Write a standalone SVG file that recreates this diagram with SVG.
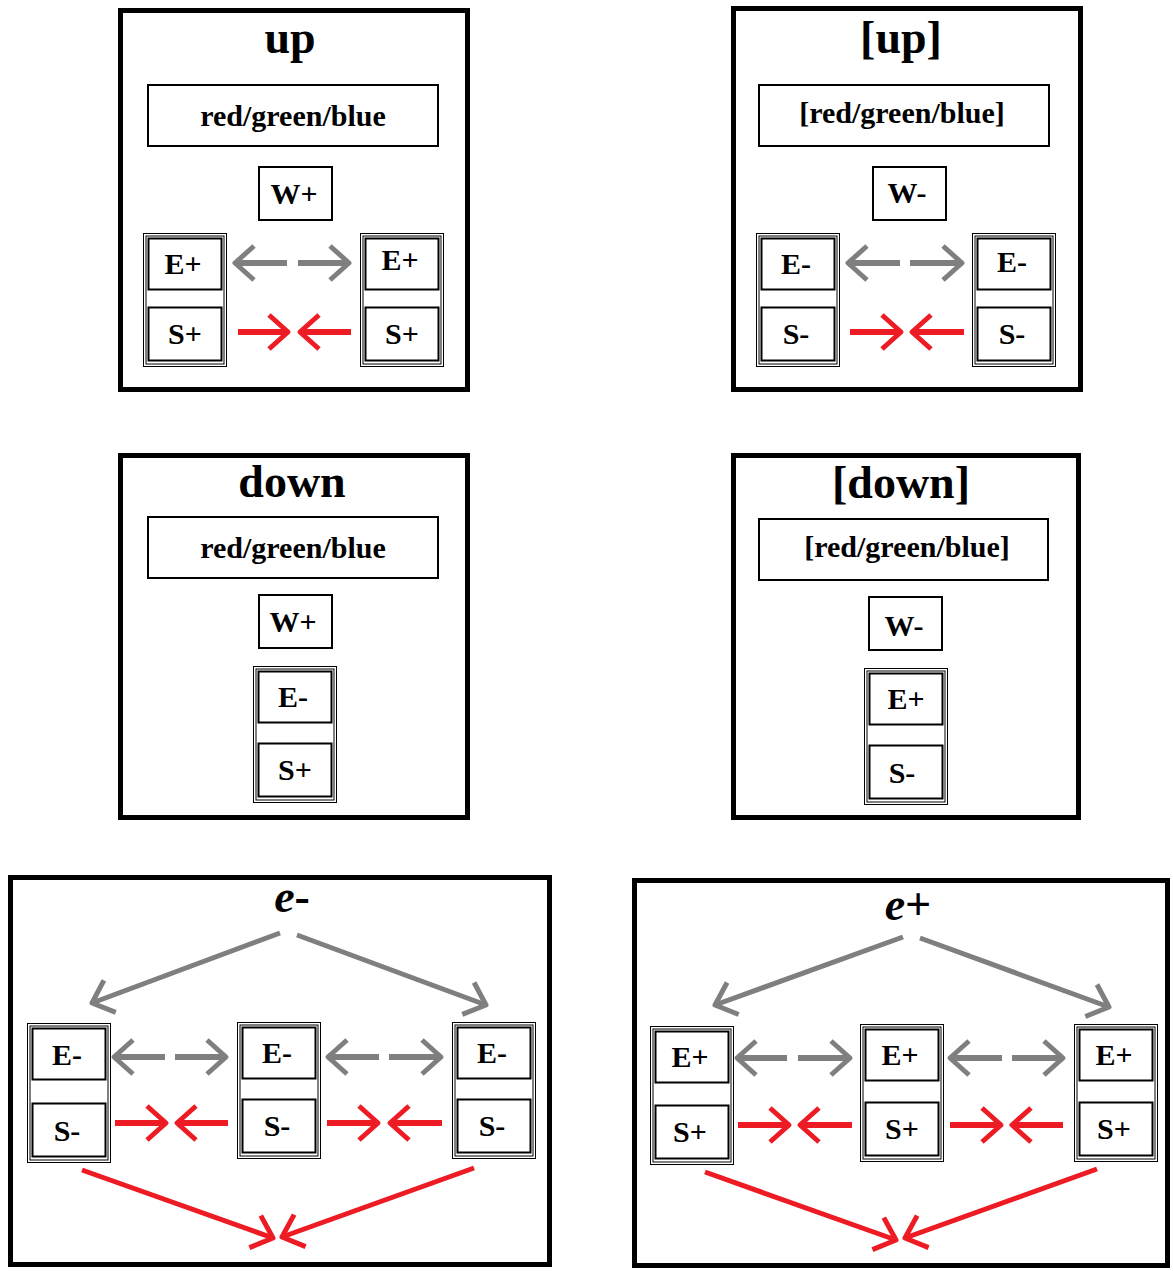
<svg xmlns="http://www.w3.org/2000/svg" width="1173" height="1271" viewBox="0 0 1173 1271">
<style>
.panel{fill:#fff;stroke:#000;stroke-width:5}
.bx{fill:#fff;stroke:#000;stroke-width:2}
.dl{fill:none;stroke:#000;stroke-width:1}
.t{font-family:"Liberation Serif","Times New Roman",serif;font-weight:bold;text-anchor:middle;fill:#000}
.lbl{font-size:30px}
.title{font-size:46px}
.g{stroke:#7f7f7f;fill:none;marker-end:url(#mg)}
.r{stroke:#ed1c24;fill:none;marker-end:url(#mr)}
.h{stroke-width:6}
.d{stroke-width:5}
</style>
<defs>
<marker id="mg" markerUnits="userSpaceOnUse" markerWidth="50" markerHeight="50" viewBox="-25 -25 50 50" refX="0" refY="0" orient="auto" overflow="visible">
<path d="M-19,-17 L0,0 L-19,17" fill="none" stroke="#7f7f7f" stroke-width="5" stroke-linejoin="round"/>
</marker>
<marker id="mr" markerUnits="userSpaceOnUse" markerWidth="50" markerHeight="50" viewBox="-25 -25 50 50" refX="0" refY="0" orient="auto" overflow="visible">
<path d="M-19,-17 L0,0 L-19,17" fill="none" stroke="#ed1c24" stroke-width="5" stroke-linejoin="round"/>
</marker>
</defs>
<rect width="1173" height="1271" fill="#fff"/>

<!-- Panel: up -->
<g id="panel-up">
<rect class="panel" x="120.5" y="10.5" width="347" height="379"/>
<text class="t title" x="290" y="53">up</text>
</g>
<g id="up-rgb"><rect class="bx" x="148" y="85" width="290" height="61"/><text class="t lbl" x="293" y="126">red/green/blue</text></g>
<g id="up-w"><rect class="bx" x="259" y="167" width="73" height="53"/><text class="t lbl" x="294" y="204">W+</text></g>
<g id="up-left" transform="translate(143,233)">
<rect class="dl" x="0.5" y="0.5" width="83" height="133"/><rect class="dl" x="3" y="3" width="78" height="128"/>
<rect class="bx" x="5.5" y="5.5" width="73" height="51"/><text class="t lbl" x="40" y="41">E+</text>
<rect class="bx" x="5.5" y="74.5" width="73" height="53"/><text class="t lbl" x="42" y="111">S+</text>
</g>
<g id="up-right" transform="translate(360,233)">
<rect class="dl" x="0.5" y="0.5" width="83" height="133"/><rect class="dl" x="3" y="3" width="78" height="128"/>
<rect class="bx" x="5.5" y="5.5" width="73" height="51"/><text class="t lbl" x="40" y="37">E+</text>
<rect class="bx" x="5.5" y="74.5" width="73" height="53"/><text class="t lbl" x="42" y="111">S+</text>
</g>

<!-- Panel: [up] -->
<g id="panel-aup">
<rect class="panel" x="733.5" y="8.5" width="347" height="381"/>
<text class="t title" x="901" y="53">[up]</text>
</g>
<g id="aup-rgb"><rect class="bx" x="759" y="85" width="290" height="61"/><text class="t lbl" x="902" y="123">[red/green/blue]</text></g>
<g id="aup-w"><rect class="bx" x="873" y="167" width="73" height="53"/><text class="t lbl" x="907" y="203">W-</text></g>
<g id="aup-left" transform="translate(756,233)">
<rect class="dl" x="0.5" y="0.5" width="83" height="133"/><rect class="dl" x="3" y="3" width="78" height="128"/>
<rect class="bx" x="5.5" y="5.5" width="73" height="51"/><text class="t lbl" x="40" y="41">E-</text>
<rect class="bx" x="5.5" y="74.5" width="73" height="53"/><text class="t lbl" x="40" y="111">S-</text>
</g>
<g id="aup-right" transform="translate(972,233)">
<rect class="dl" x="0.5" y="0.5" width="83" height="133"/><rect class="dl" x="3" y="3" width="78" height="128"/>
<rect class="bx" x="5.5" y="5.5" width="73" height="51"/><text class="t lbl" x="40" y="39">E-</text>
<rect class="bx" x="5.5" y="74.5" width="73" height="53"/><text class="t lbl" x="40" y="111">S-</text>
</g>

<!-- Panel: down -->
<g id="panel-down">
<rect class="panel" x="120.5" y="455.5" width="347" height="362"/>
<text class="t title" x="292" y="497">down</text>
</g>
<g id="down-rgb"><rect class="bx" x="148" y="517" width="290" height="61"/><text class="t lbl" x="293" y="558">red/green/blue</text></g>
<g id="down-w"><rect class="bx" x="259" y="595" width="73" height="53"/><text class="t lbl" x="293" y="632">W+</text></g>
<g id="down-es" transform="translate(253,666)">
<rect class="dl" x="0.5" y="0.5" width="83" height="136"/><rect class="dl" x="3" y="3" width="78" height="131"/>
<rect class="bx" x="5.5" y="5.5" width="73" height="51"/><text class="t lbl" x="40" y="41">E-</text>
<rect class="bx" x="5.5" y="77.5" width="73" height="53"/><text class="t lbl" x="42" y="114">S+</text>
</g>

<!-- Panel: [down] -->
<g id="panel-adown">
<rect class="panel" x="733.5" y="455.5" width="345" height="362"/>
<text class="t title" x="901" y="498">[down]</text>
</g>
<g id="adown-rgb"><rect class="bx" x="759" y="519" width="289" height="61"/><text class="t lbl" x="907" y="557">[red/green/blue]</text></g>
<g id="adown-w"><rect class="bx" x="869" y="597" width="73" height="53"/><text class="t lbl" x="904" y="636">W-</text></g>
<g id="adown-es" transform="translate(864,668)">
<rect class="dl" x="0.5" y="0.5" width="83" height="136"/><rect class="dl" x="3" y="3" width="78" height="131"/>
<rect class="bx" x="5.5" y="5.5" width="73" height="51"/><text class="t lbl" x="42" y="41">E+</text>
<rect class="bx" x="5.5" y="77.5" width="73" height="53"/><text class="t lbl" x="38" y="115">S-</text>
</g>

<!-- Panel: e- -->
<g id="panel-em">
<rect class="panel" x="10.5" y="877.5" width="539" height="387"/>
<text class="t title" x="292" y="912"><tspan font-style="italic">e</tspan>-</text>
</g>
<g id="em-left" transform="translate(27,1023)">
<rect class="dl" x="0.5" y="0.5" width="83" height="139"/><rect class="dl" x="3" y="3" width="78" height="134"/>
<rect class="bx" x="5.5" y="5.5" width="73" height="51"/><text class="t lbl" x="40" y="42">E-</text>
<rect class="bx" x="5.5" y="80.5" width="73" height="53"/><text class="t lbl" x="40" y="118">S-</text>
</g>
<g id="em-mid" transform="translate(237,1022)">
<rect class="dl" x="0.5" y="0.5" width="83" height="136"/><rect class="dl" x="3" y="3" width="78" height="131"/>
<rect class="bx" x="5.5" y="5.5" width="73" height="51"/><text class="t lbl" x="40" y="41">E-</text>
<rect class="bx" x="5.5" y="77.5" width="73" height="53"/><text class="t lbl" x="40" y="114">S-</text>
</g>
<g id="em-right" transform="translate(452,1022)">
<rect class="dl" x="0.5" y="0.5" width="83" height="136"/><rect class="dl" x="3" y="3" width="78" height="131"/>
<rect class="bx" x="5.5" y="5.5" width="73" height="51"/><text class="t lbl" x="40" y="41">E-</text>
<rect class="bx" x="5.5" y="77.5" width="73" height="53"/><text class="t lbl" x="40" y="114">S-</text>
</g>

<!-- Panel: e+ -->
<g id="panel-ep">
<rect class="panel" x="634.5" y="880.5" width="533" height="385"/>
<text class="t title" x="908" y="920"><tspan font-style="italic">e</tspan>+</text>
</g>
<g id="ep-left" transform="translate(650,1026)">
<rect class="dl" x="0.5" y="0.5" width="83" height="138"/><rect class="dl" x="3" y="3" width="78" height="133"/>
<rect class="bx" x="5.5" y="5.5" width="73" height="51"/><text class="t lbl" x="40" y="41">E+</text>
<rect class="bx" x="5.5" y="79.5" width="73" height="53"/><text class="t lbl" x="40" y="116">S+</text>
</g>
<g id="ep-mid" transform="translate(860,1024)">
<rect class="dl" x="0.5" y="0.5" width="83" height="137"/><rect class="dl" x="3" y="3" width="78" height="132"/>
<rect class="bx" x="5.5" y="5.5" width="73" height="51"/><text class="t lbl" x="40" y="41">E+</text>
<rect class="bx" x="5.5" y="78.5" width="73" height="53"/><text class="t lbl" x="42" y="115">S+</text>
</g>
<g id="ep-right" transform="translate(1074,1024)">
<rect class="dl" x="0.5" y="0.5" width="83" height="137"/><rect class="dl" x="3" y="3" width="78" height="132"/>
<rect class="bx" x="5.5" y="5.5" width="73" height="51"/><text class="t lbl" x="40" y="41">E+</text>
<rect class="bx" x="5.5" y="78.5" width="73" height="53"/><text class="t lbl" x="40" y="115">S+</text>
</g>

<!-- Connectors -->
<g id="connectors">
<!-- up -->
<line class="g h" x1="287" y1="263" x2="235" y2="263"/>
<line class="g h" x1="298" y1="263" x2="349" y2="263"/>
<line class="r h" x1="238" y1="332" x2="288" y2="332"/>
<line class="r h" x1="351" y1="332" x2="300" y2="332"/>
<!-- [up] -->
<line class="g h" x1="900" y1="263" x2="848" y2="263"/>
<line class="g h" x1="910" y1="263" x2="962" y2="263"/>
<line class="r h" x1="850" y1="332" x2="901" y2="332"/>
<line class="r h" x1="964" y1="332" x2="912" y2="332"/>
<!-- e- -->
<line class="g d" x1="280" y1="933" x2="92" y2="1003"/>
<line class="g d" x1="297" y1="935" x2="486" y2="1005"/>
<line class="g h" x1="165" y1="1057" x2="114" y2="1057"/>
<line class="g h" x1="175" y1="1057" x2="226" y2="1057"/>
<line class="g h" x1="379" y1="1057" x2="328" y2="1057"/>
<line class="g h" x1="389" y1="1057" x2="441" y2="1057"/>
<line class="r h" x1="115" y1="1123" x2="166" y2="1123"/>
<line class="r h" x1="228" y1="1123" x2="177" y2="1123"/>
<line class="r h" x1="327" y1="1123" x2="378" y2="1123"/>
<line class="r h" x1="442" y1="1123" x2="390" y2="1123"/>
<line class="r d" x1="82" y1="1170" x2="273" y2="1238"/>
<line class="r d" x1="474" y1="1168" x2="282" y2="1237"/>
<!-- e+ -->
<line class="g d" x1="903" y1="937" x2="715" y2="1005"/>
<line class="g d" x1="920" y1="938" x2="1109" y2="1007"/>
<line class="g h" x1="787" y1="1058" x2="737" y2="1058"/>
<line class="g h" x1="798" y1="1058" x2="850" y2="1058"/>
<line class="g h" x1="1002" y1="1058" x2="950" y2="1058"/>
<line class="g h" x1="1012" y1="1058" x2="1063" y2="1058"/>
<line class="r h" x1="738" y1="1125" x2="789" y2="1125"/>
<line class="r h" x1="852" y1="1125" x2="800" y2="1125"/>
<line class="r h" x1="950" y1="1125" x2="1001" y2="1125"/>
<line class="r h" x1="1063" y1="1125" x2="1012" y2="1125"/>
<line class="r d" x1="705" y1="1172" x2="896" y2="1240"/>
<line class="r d" x1="1097" y1="1169" x2="905" y2="1238"/>
</g>
</svg>
